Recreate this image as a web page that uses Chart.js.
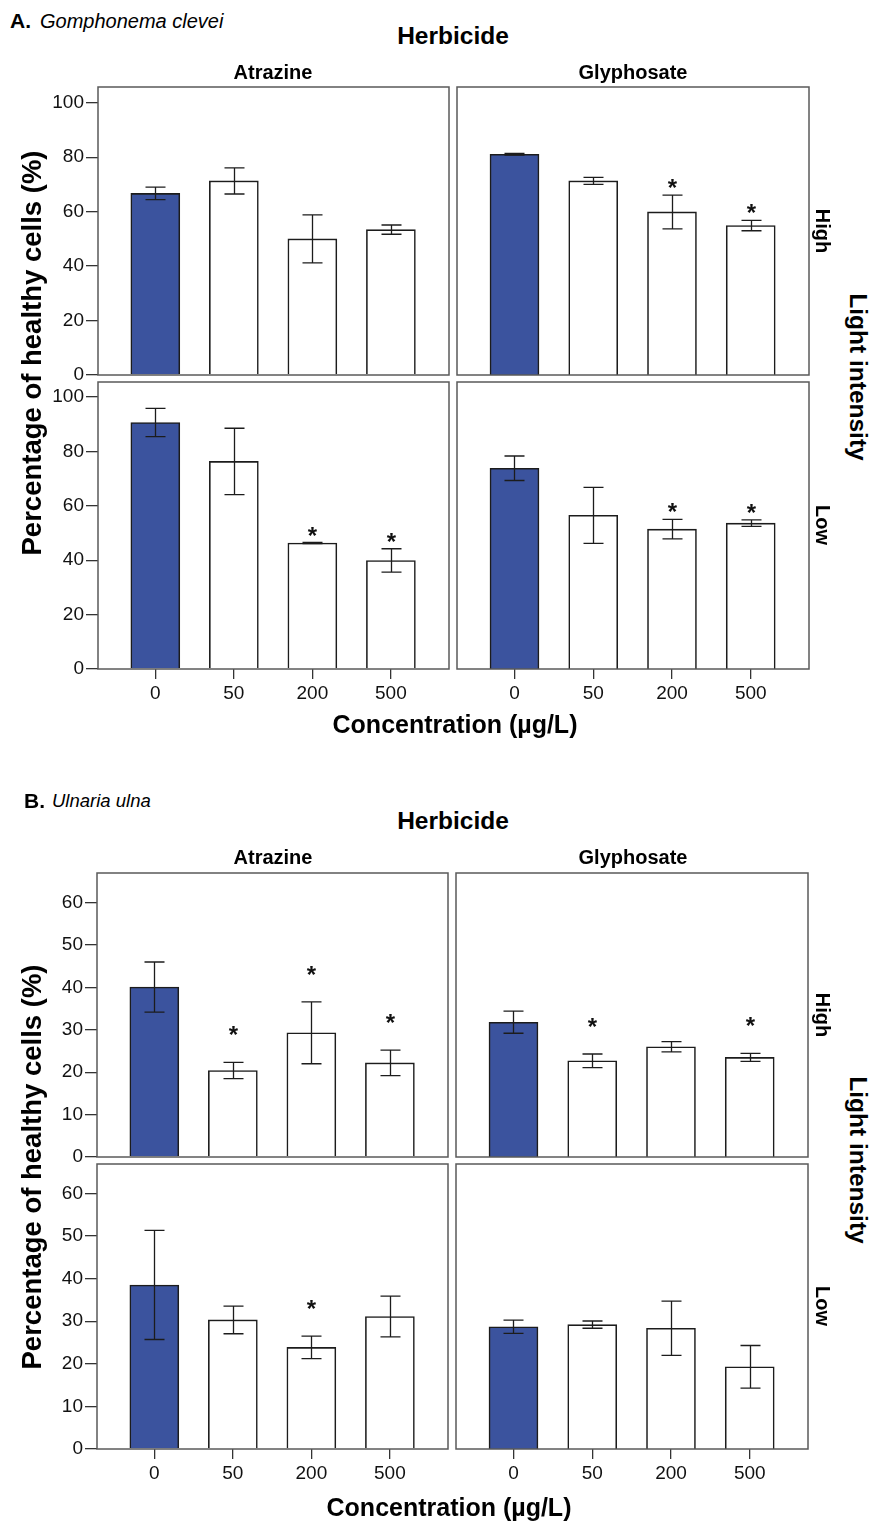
<!DOCTYPE html>
<html>
<head>
<meta charset="utf-8">
<script src="https://cdn.jsdelivr.net/npm/chart.js@4.4.0/dist/chart.umd.min.js"></script>
<style>
  body { margin: 0; background: #fff; }
  #page { position: relative; width: 873px; height: 1524px; overflow: hidden; background: #fff;
          font-family: "Liberation Sans", Arial, sans-serif; color: #000; }
  #page canvas { position: absolute; }
  .lbl { position: absolute; white-space: nowrap; line-height: 1; }
</style>
</head>
<body>
<div id="page"></div>
<script>
const concLabels = ['0', '50', '200', '500'];

// A. Gomphonema clevei - mean % healthy cells and error half-width
const gcAtrHigh    = [66.7, 71.3, 50.0, 53.4];
const gcAtrHighErr = [2.3, 4.8, 8.8, 1.7];
const gcAtrHighSig = [0, 0, 0, 0];
const gcGlyHigh    = [81.1, 71.3, 59.9, 54.9];
const gcGlyHighErr = [0.3, 1.3, 6.2, 1.9];
const gcGlyHighSig = [0, 0, 1, 1];
const gcAtrLow     = [90.6, 76.3, 46.3, 39.9];
const gcAtrLowErr  = [5.2, 12.2, 0.2, 4.3];
const gcAtrLowSig  = [0, 0, 1, 1];
const gcGlyLow     = [73.8, 56.5, 51.4, 53.6];
const gcGlyLowErr  = [4.5, 10.3, 3.6, 1.2];
const gcGlyLowSig  = [0, 0, 1, 1];
const gcTicks = [0, 20, 40, 60, 80, 100];

// B. Ulnaria ulna
const uuAtrHigh    = [40.1, 20.4, 29.3, 22.2];
const uuAtrHighErr = [5.9, 1.9, 7.3, 3.0];
const uuAtrHighSig = [0, 1, 1, 1];
const uuGlyHigh    = [31.8, 22.7, 26.0, 23.5];
const uuGlyHighErr = [2.6, 1.6, 1.2, 0.95];
const uuGlyHighSig = [0, 1, 0, 1];
const uuAtrLow     = [38.5, 30.3, 23.85, 31.1];
const uuAtrLowErr  = [12.8, 3.25, 2.65, 4.8];
const uuAtrLowSig  = [0, 0, 1, 0];
const uuGlyLow     = [28.7, 29.2, 28.35, 19.3];
const uuGlyLowErr  = [1.55, 0.85, 6.35, 5.0];
const uuGlyLowSig  = [0, 0, 0, 0];
const uuTicks = [0, 10, 20, 30, 40, 50, 60];

const BLUE = '#3B539E';
const FONT = '"Liberation Sans", Arial, sans-serif';
const page = document.getElementById('page');

function addText(html, x, y, css, angle, alignLeft) {
  const d = document.createElement('div');
  d.className = 'lbl';
  d.innerHTML = html;
  d.style.left = x + 'px';
  d.style.top = y + 'px';
  d.style.transform = (alignLeft ? 'translate(0,-50%)' : 'translate(-50%,-50%)') +
    (angle ? ' rotate(' + angle + 'deg)' : '');
  d.style.cssText += css;
  page.appendChild(d);
}

// error bars, significance stars and panel frame
const panelDecor = {
  id: 'panelDecor',
  afterDatasetsDraw(chart, args, opts) {
    const { ctx, chartArea: a, scales: { x, y } } = chart;
    const pts = chart.data.datasets[0].data;
    ctx.save();
    ctx.strokeStyle = '#1c1c1c';
    ctx.lineWidth = 1.3;
    ctx.fillStyle = '#111';
    ctx.font = 'bold 24px ' + FONT;
    ctx.textAlign = 'center';
    ctx.textBaseline = 'alphabetic';
    pts.forEach((p, i) => {
      const e = opts.errs[i];
      const px = Math.round(x.getPixelForValue(p.x)) + 0.5;
      const top = y.getPixelForValue(p.y + e);
      const bot = y.getPixelForValue(p.y - e);
      ctx.beginPath();
      ctx.moveTo(px, top); ctx.lineTo(px, bot);
      ctx.moveTo(px - 10, top); ctx.lineTo(px + 10, top);
      ctx.moveTo(px - 10, bot); ctx.lineTo(px + 10, bot);
      ctx.stroke();
      if (opts.sig[i]) ctx.fillText('*', px, top - opts.starGap + 14);
    });
    ctx.strokeStyle = '#5a5a5a';
    ctx.lineWidth = 1.5;
    ctx.strokeRect(a.left, a.top, a.right - a.left, a.bottom - a.top);
    ctx.restore();
  }
};

function drawPanel(box, yMax, yTicks, means, errs, sig, showY, showX, starGap) {
  const padL = showY ? 70 : 4, padB = showX ? 46 : 16, padT = 16, padR = 4;
  const w = box.w + padL + padR, h = box.h + padT + padB;
  const c = document.createElement('canvas');
  c.width = w; c.height = h;
  c.style.width = w + 'px'; c.style.height = h + 'px';
  c.style.left = (box.x - padL) + 'px';
  c.style.top = (box.y - padT) + 'px';
  page.appendChild(c);

  new Chart(c, {
    type: 'bar',
    data: {
      datasets: [{
        data: means.map((v, i) => ({ x: i, y: v })),
        backgroundColor: means.map((v, i) => i === 0 ? BLUE : '#fff'),
        borderColor: '#1c1c1c',
        borderWidth: 1.6,
        barThickness: 49
      }]
    },
    options: {
      responsive: false,
      animation: false,
      layout: { padding: { top: padT, right: padR, left: 0, bottom: 0 } },
      plugins: {
        legend: { display: false },
        tooltip: { enabled: false },
        panelDecor: { errs: errs, sig: sig, starGap: starGap }
      },
      scales: {
        x: {
          type: 'linear', min: -0.73, max: 3.74, offset: false,
          afterBuildTicks: s => { s.ticks = concLabels.map((l, i) => ({ value: i })); },
          afterFit: s => { s.height = padB; },
          ticks: { display: showX, callback: v => concLabels[v], color: '#111',
                   font: { family: FONT, size: 19 }, padding: 3, maxRotation: 0, autoSkip: false },
          grid: { display: showX, offset: false, drawOnChartArea: false, tickLength: 10,
                  color: '#333', lineWidth: 1.3 },
          border: { display: false }
        },
        y: {
          min: 0, max: yMax,
          afterBuildTicks: s => { s.ticks = yTicks.map(v => ({ value: v })); },
          afterFit: s => { s.width = padL; },
          ticks: { display: showY, color: '#111', font: { family: FONT, size: 19 }, padding: 2 },
          grid: { display: showY, drawOnChartArea: false, tickLength: 12, color: '#333', lineWidth: 1.3 },
          border: { display: false }
        }
      }
    },
    plugins: [panelDecor]
  });
}

// ---- A. Gomphonema clevei ----
drawPanel({ x: 98, y: 87, w: 351, h: 288 }, 105.8, gcTicks, gcAtrHigh, gcAtrHighErr, gcAtrHighSig, true, false, 13);
drawPanel({ x: 457, y: 87, w: 352, h: 288 }, 105.8, gcTicks, gcGlyHigh, gcGlyHighErr, gcGlyHighSig, false, false, 13);
drawPanel({ x: 98, y: 382, w: 351, h: 287 }, 105.5, gcTicks, gcAtrLow, gcAtrLowErr, gcAtrLowSig, true, true, 13);
drawPanel({ x: 457, y: 382, w: 352, h: 287 }, 105.5, gcTicks, gcGlyLow, gcGlyLowErr, gcGlyLowSig, false, true, 13);

// ---- B. Ulnaria ulna ----
drawPanel({ x: 97, y: 873, w: 351, h: 284 }, 67.0, uuTicks, uuAtrHigh, uuAtrHighErr, uuAtrHighSig, true, false, 33);
drawPanel({ x: 456, y: 873, w: 352, h: 284 }, 67.0, uuTicks, uuGlyHigh, uuGlyHighErr, uuGlyHighSig, false, false, 33);
drawPanel({ x: 97, y: 1164, w: 351, h: 285 }, 66.9, uuTicks, uuAtrLow, uuAtrLowErr, uuAtrLowSig, true, true, 33);
drawPanel({ x: 456, y: 1164, w: 352, h: 285 }, 66.9, uuTicks, uuGlyLow, uuGlyLowErr, uuGlyLowSig, false, true, 33);

// ---- titles and facet labels ----
const bold = 'font-weight:bold;';
[
  { fig: 'A.', name: 'Gomphonema clevei', nameSize: 20, fx: 10, nx: 40, fy: 20, herbY: 36, facetY: 72,
    yMid: 353, lightY: 377, highY: 231, lowY: 525, concX: 455, concY: 724 },
  { fig: 'B.', name: 'Ulnaria ulna', nameSize: 18.5, fx: 24, nx: 52, fy: 800, herbY: 821, facetY: 857,
    yMid: 1167, lightY: 1160, highY: 1015, lowY: 1306, concX: 449, concY: 1507 }
].forEach(f => {
  addText(f.fig, f.fx, f.fy, bold + 'font-size:21px;', 0, true);
  addText(f.name, f.nx, f.fy + 1, 'font-style:italic;font-size:' + f.nameSize + 'px;', 0, true);
  addText('Herbicide', 453, f.herbY, bold + 'font-size:24.5px;');
  addText('Atrazine', 273, f.facetY, bold + 'font-size:20px;');
  addText('Glyphosate', 633, f.facetY, bold + 'font-size:20px;');
  addText('Percentage of healthy cells (%)', 32, f.yMid, bold + 'font-size:27.5px;', -90);
  addText('Light intensity', 858, f.lightY, bold + 'font-size:24.5px;', 90);
  addText('High', 823, f.highY, bold + 'font-size:20px;', 90);
  addText('Low', 823, f.lowY, bold + 'font-size:20px;', 90);
  addText('Concentration (µg/L)', f.concX, f.concY, bold + 'font-size:25px;');
});
</script>
</body>
</html>
